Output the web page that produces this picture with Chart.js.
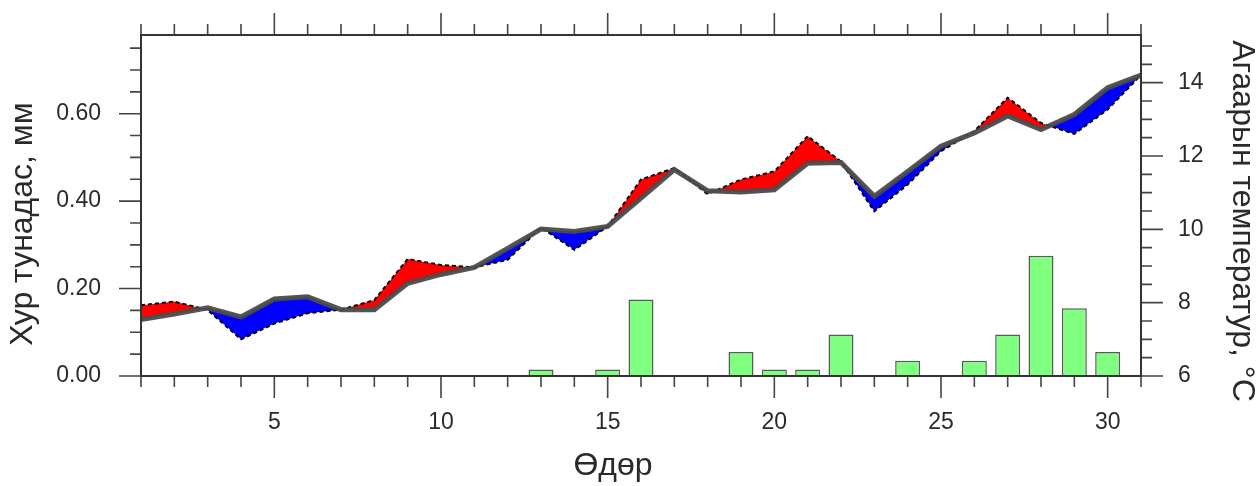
<!DOCTYPE html>
<html>
<head>
<meta charset="utf-8">
<script src="https://cdn.jsdelivr.net/npm/chart.js@4.4.1/dist/chart.umd.min.js"></script>
<style>
  html, body { margin: 0; padding: 0; background: #fff; }
  #wrap { width: 1257px; height: 486px; }
</style>
</head>
<body>
<div id="wrap"><canvas id="chart" width="1257" height="486"></canvas></div>
<script>
const days = [1, 2, 3, 4, 5, 6, 7, 8, 9, 10, 11, 12, 13, 14, 15, 16, 17, 18, 19, 20, 21, 22, 23, 24, 25, 26, 27, 28, 29, 30, 31];
// олон жилийн дундаж (саарал шугам)
const tempClim = [7.54, 7.69, 7.86, 7.61, 8.10, 8.16, 7.81, 7.81, 8.53, 8.77, 8.96, 9.48, 10.01, 9.94, 10.08, 10.85,
  11.63, 11.05, 11.02, 11.08, 11.80, 11.82, 10.90, 11.58, 12.27, 12.63, 13.09, 12.72, 13.13, 13.86, 14.21];
// тухайн жилийн агаарын температур (цэгэн шугам)
const tempObs = [7.93, 8.03, 7.80, 7.00, 7.43, 7.71, 7.81, 8.07, 9.19, 9.03, 8.96, 9.17, 10.05, 9.44, 10.08, 11.36,
  11.67, 10.96, 11.36, 11.58, 12.54, 11.85, 10.49, 11.22, 12.13, 12.68, 13.59, 12.90, 12.60, 13.27, 14.21];
// хур тунадас, мм
const precip = [0, 0, 0, 0, 0, 0, 0, 0, 0, 0, 0, 0, 0.015, 0, 0.015, 0.175, 0, 0, 0.055, 0.015, 0.015, 0.095, 0,
  0.035, 0, 0.035, 0.095, 0.275, 0.155, 0.055, 0];

const dayTicks = [5, 10, 15, 20, 25, 30];
const precipTicks = [0, 0.2, 0.4, 0.6];
const tempTicks = [6, 8, 10, 12, 14];

const xTitle = 'Өдөр';
const yTitle = 'Хур тунадас, мм';
const y1Title = 'Агаарын температур, °C';

const textColor = '#2a2a2a';
const tickFont = { family: 'Liberation Sans', size: 23 };
const titleFont = '32px "Liberation Sans"';

// хүрээ болон гадагш чиглэсэн том/жижиг зураасууд
const frameTicks = {
  id: 'frameTicks',
  afterDraw(chart) {
    const { ctx, chartArea: a, scales: { x, y, y1 } } = chart;
    ctx.save();
    ctx.strokeStyle = '#444';
    ctx.lineWidth = 1.6;
    ctx.beginPath();
    for (let d = 1; d <= 31; d++) {
      const px = x.getPixelForValue(d);
      const len = d % 5 === 0 ? 22 : 11;
      ctx.moveTo(px, a.bottom); ctx.lineTo(px, a.bottom + len);
      ctx.moveTo(px, a.top); ctx.lineTo(px, a.top - len);
    }
    for (let k = 0; k <= 15; k++) {
      const py = y.getPixelForValue(k * 0.05);
      ctx.moveTo(a.left, py); ctx.lineTo(a.left - (k % 4 === 0 ? 22 : 11), py);
    }
    for (let k = 0; k <= 18; k++) {
      const py = y1.getPixelForValue(6 + k * 0.5);
      ctx.moveTo(a.right, py); ctx.lineTo(a.right + (k % 4 === 0 ? 22 : 11), py);
    }
    ctx.stroke();
    ctx.strokeStyle = '#333';
    ctx.lineWidth = 2;
    ctx.strokeRect(a.left, a.top, a.right - a.left, a.bottom - a.top);

    // тэнхлэгийн нэрс
    ctx.fillStyle = textColor;
    ctx.font = titleFont;
    ctx.textAlign = 'center';
    ctx.textBaseline = 'middle';
    ctx.fillText(xTitle, 613, 466);
    ctx.save();
    ctx.translate(23, 224);
    ctx.rotate(-Math.PI / 2);
    ctx.fillText(yTitle, 0, 0);
    ctx.restore();
    ctx.save();
    ctx.translate(1242, 221);
    ctx.rotate(Math.PI / 2);
    ctx.fillText(y1Title, 0, 0);
    ctx.restore();
    ctx.restore();
  }
};

const noGrid = { display: false, drawTicks: false };

new Chart('chart', {
  type: 'line',
  data: {
    datasets: [
      {
        label: 'obs',
        data: days.map((d, i) => ({ x: d, y: tempObs[i] })),
        yAxisID: 'y1',
        borderColor: '#000',
        borderWidth: 2,
        borderDash: [4, 3],
        pointRadius: 0,
        tension: 0,
        fill: { target: 1, above: '#ff0000', below: '#0000ff' },
        order: 1
      },
      {
        label: 'clim',
        data: days.map((d, i) => ({ x: d, y: tempClim[i] })),
        yAxisID: 'y1',
        borderColor: 'rgba(75,75,75,0.95)',
        borderWidth: 5,
        pointRadius: 0,
        tension: 0,
        fill: false,
        order: 0
      },
      {
        type: 'bar',
        label: 'precip',
        data: days.map((d, i) => ({ x: d, y: precip[i] > 0 ? precip[i] : null })),
        yAxisID: 'y',
        backgroundColor: '#80ff80',
        borderColor: '#5a5a5a',
        borderWidth: 1.5,
        barPercentage: 0.75,
        categoryPercentage: 1,
        order: 2
      }
    ]
  },
  options: {
    responsive: false,
    animation: false,
    devicePixelRatio: 1,
    layout: { padding: { top: 35, left: 0, right: 0, bottom: 0 } },
    plugins: {
      legend: { display: false },
      tooltip: { enabled: false }
    },
    scales: {
      x: {
        type: 'linear',
        min: 1,
        max: 31,
        offset: false,
        afterBuildTicks: s => { s.ticks = dayTicks.map(v => ({ value: v })); },
        ticks: { font: tickFont, color: textColor, padding: 33, maxRotation: 0, autoSkip: false },
        grid: noGrid,
        border: { display: false },
        afterFit: s => { s.height = 110; s.paddingLeft = 0; s.paddingRight = 0; }
      },
      y: {
        position: 'left',
        min: 0,
        max: 0.78,
        afterBuildTicks: s => { s.ticks = precipTicks.map(v => ({ value: v })); },
        ticks: { font: tickFont, color: textColor, padding: 40, callback: v => v.toFixed(2) },
        grid: noGrid,
        border: { display: false },
        afterFit: s => { s.width = 141; s.paddingTop = 0; s.paddingBottom = 0; }
      },
      y1: {
        position: 'right',
        min: 6,
        max: 15.3,
        afterBuildTicks: s => { s.ticks = tempTicks.map(v => ({ value: v })); },
        ticks: { font: tickFont, color: textColor, padding: 37 },
        grid: noGrid,
        border: { display: false },
        afterFit: s => { s.width = 116; s.paddingTop = 0; s.paddingBottom = 0; }
      }
    }
  },
  plugins: [frameTicks]
});
</script>
</body>
</html>
